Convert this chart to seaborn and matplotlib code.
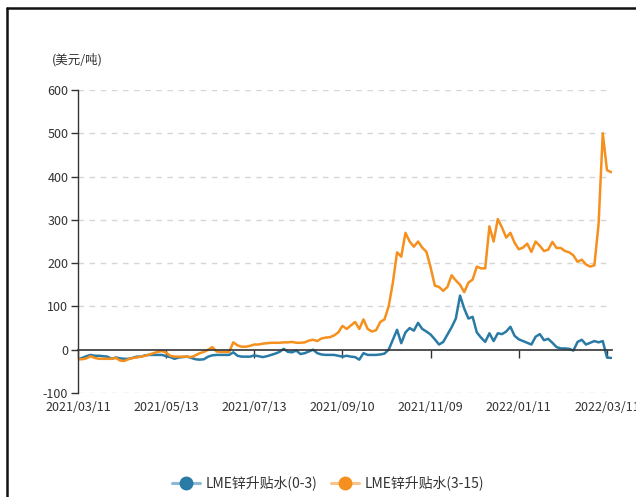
import matplotlib
matplotlib.use("Agg")
import matplotlib.pyplot as plt
from matplotlib.lines import Line2D
import seaborn as sns
import numpy as np
import pandas as pd

# x tick labels (category axis, one label every 21 points)
tick_labels = ["2021/03/11", "2021/05/13", "2021/07/13", "2021/09/10",
               "2021/11/09", "2022/01/11", "2022/03/11"]
tick_step = 21

# LME锌升贴水(0-3), 美元/吨
spread_0_3 = [
    -22, -19, -15, -12, -14, -14, -15, -16, -21, -18,
    -20, -21, -21, -19, -16, -16, -13, -12, -12, -12,
    -12, -15, -17, -21, -18, -17, -16, -19, -22, -23,
    -22, -16, -13, -12, -12, -12, -12, -6, -14, -16,
    -16, -16, -13, -15, -17, -15, -12, -9, -5, 2,
    -5, -6, -2, -10, -8, -4, 0, -8, -11, -12,
    -12, -12, -14, -16, -14, -16, -17, -23, -8, -12,
    -12, -12, -11, -9, 0, 23, 46, 15, 40, 50,
    44, 62, 48, 42, 35, 24, 12, 18, 35, 52,
    72, 125, 95, 72, 76, 40, 28, 18, 38, 20,
    38, 36, 42, 53, 32, 24, 20, 16, 12, 30,
    36, 22, 25, 16, 6, 3, 3, 2, -2, 18,
    23, 12, 16, 20, 17, 20, -18, -19,
]

# LME锌升贴水(3-15), 美元/吨
spread_3_15 = [
    -22, -22, -20, -15, -19, -21, -21, -21, -21, -19,
    -25, -26, -22, -19, -18, -16, -14, -11, -8, -5,
    -3, -7, -14, -16, -16, -16, -16, -17, -13, -8,
    -5, 0, 6, -4, -5, -5, -5, 17, 10, 7,
    7, 9, 12, 12, 14, 15, 16, 16, 16, 17,
    17, 18, 16, 16, 17, 21, 23, 20, 26, 28,
    29, 33, 40, 55, 48, 56, 64, 48, 70, 48,
    42, 45, 64, 70, 100, 155, 225, 215, 270, 250,
    238, 250, 236, 226, 190, 148, 145, 136, 145, 172,
    160, 150, 133, 155, 162, 192, 188, 188, 285, 250,
    302, 282, 259, 270, 247, 232, 236, 245, 226, 250,
    240, 228, 231, 249, 235, 235, 228, 225, 218, 203,
    208, 197, 192, 195, 290, 500, 415, 410,
]

series_names = ["LME锌升贴水(0-3)", "LME锌升贴水(3-15)"]
colors = ["#2a7aa6", "#f5901e"]
light_colors = ["#8dbad3", "#f9c48a"]

n = len(spread_0_3)
df = pd.DataFrame({
    "idx": np.tile(np.arange(n), 2),
    "value": spread_0_3 + spread_3_15,
    "series": [series_names[0]] * n + [series_names[1]] * n,
})

sns.set_theme(style="white")
plt.rcParams["font.family"] = ["Noto Sans CJK SC", "DejaVu Sans"]
plt.rcParams["axes.unicode_minus"] = False

fig = plt.figure(figsize=(6.36, 4.97), dpi=100)
ax = fig.add_axes([78 / 636, 1 - 393 / 497, 534 / 636, 303 / 497])

sns.lineplot(data=df, x="idx", y="value", hue="series", palette=colors,
             linewidth=1.8, ax=ax, legend=False)

ax.set_xlim(0, 127.2)
ax.set_ylim(-100, 600)
ax.set_yticks(range(-100, 601, 100))
ax.set_xlabel("")
ax.set_ylabel("")
for y in range(-100, 601, 100):
    if y != 0:
        ax.axhline(y, color="#d6d6d6", lw=1, ls=(0, (4, 4)), zorder=0)

for s in ["top", "right"]:
    ax.spines[s].set_visible(False)
ax.spines["left"].set_color("#333333")
ax.spines["left"].set_linewidth(1)
ax.spines["bottom"].set_position(("data", 0))
ax.spines["bottom"].set_color("#333333")
ax.spines["bottom"].set_linewidth(1.2)

ticks = list(range(0, n, tick_step))
ax.set_xticks(ticks)
ax.tick_params(axis="x", direction="out", length=6, width=1, color="#333333",
               labelbottom=False, bottom=True)
ax.tick_params(axis="y", direction="out", length=5, width=1, color="#333333",
               left=True, labelsize=9, labelcolor="#333333", pad=2)

sec = ax.secondary_xaxis(0)
sec.set_xticks(ticks)
sec.set_xticklabels(tick_labels)
sec.tick_params(length=0, labelsize=9, labelcolor="#333333", pad=6)
sec.spines["bottom"].set_visible(False)

fig.text(77 / 636, 1 - 60 / 497, "(美元/吨)", ha="center", va="center",
         fontsize=9, color="#333333")

handles = [
    Line2D([], [], color=light_colors[i], lw=2.2, marker="o", markersize=9,
           markerfacecolor=colors[i], markeredgecolor=colors[i])
    for i in range(2)
]
fig.legend(handles, series_names, loc="center", bbox_to_anchor=(328 / 636, 1 - 483 / 497),
           ncol=2, frameon=False, fontsize=10, handlelength=2.0, columnspacing=1.0,
           handletextpad=0.4, labelcolor="#333333")

# outer frame (top and left edges)
fig.add_artist(Line2D([7 / 636, 1.0], [1 - 8 / 497, 1 - 8 / 497],
                      transform=fig.transFigure, color="#111111", lw=1.8))
fig.add_artist(Line2D([7 / 636, 7 / 636], [0.0, 1 - 8 / 497],
                      transform=fig.transFigure, color="#111111", lw=1.8))

fig.savefig("out.png", dpi=100)
